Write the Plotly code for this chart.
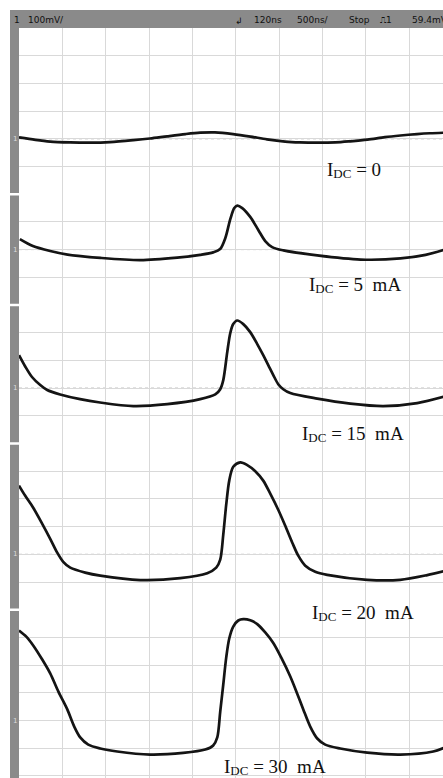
import plotly.graph_objects as go

# ---------------- data (time in ns, voltage in mV, 500 ns/div, 100 mV/div) ----------------
t_0mA = [-2500, -2310, -2140, -1910, -1680, -1450, -1180, -990, -790, -580, -410, -240, -30,
         170, 360, 570, 740, 940, 1150, 1320, 1520, 1720, 1900, 2090, 2240, 2400]
v_0mA = [5, -4, -10, -13, -14, -12, -5, 1, 9, 17, 22, 23, 17,
         8, -2, -10, -13, -14, -13, -9, -3, 6, 12, 17, 20, 22]

t_5mA = [-2490, -2340, -2140, -1940, -1560, -1100, -675, -410, -260, -180, -120, -63, -17,
         17, 75, 167, 260, 340, 420, 550, 940, 1440, 1900, 2190, 2400]
v_5mA = [38, 13, -5, -18, -30, -38, -29, -19, -10, 2, 42, 110, 150,
         159, 150, 118, 71, 31, 9, -3, -21, -36, -32, -19, -1]

t_15mA = [-2500, -2430, -2350, -2255, -2175, -2025, -1795, -1565, -1182, -790, -410, -236, -179,
          -144, -98, -63, -29, 17, 87, 167, 248, 317, 375, 433, 490, 548, 629, 940, 1321,
          1701, 2093, 2400]
v_15mA = [119, 79, 40, 11, -7, -23, -40, -52, -65, -58, -40, -23, -4,
          29, 130, 199, 231, 244, 231, 202, 159, 119, 83, 47, 14, -4, -18, -38, -56,
          -65, -54, -31]

t_20mA = [-2500, -2430, -2336, -2232, -2140, -2059, -1990, -1909, -1736, -1563, -1101, -640,
          -329, -225, -179, -144, -110, -75, -29, 52, 133, 225, 317, 398, 490, 571, 652,
          721, 802, 917, 1055, 1517, 1897, 2209, 2400]
v_20mA = [248, 212, 168, 110, 56, 6, -27, -48, -66, -77, -93, -86,
          -68, -48, -19, 71, 179, 266, 316, 332, 322, 300, 266, 219, 161, 103, 42,
          -5, -41, -63, -74, -92, -92, -75, -61]

t_30mA = [-2500, -2416, -2336, -2232, -2140, -2047, -1943, -1863, -1794, -1701, -1563, -1367,
          -986, -606, -352, -260, -213, -179, -144, -110, -75, -29, 29, 87, 167, 248, 340,
          433, 525, 629, 709, 779, 859, 940, 1032, 1205, 1517, 1897, 2278, 2400]
v_30mA = [325, 303, 271, 220, 170, 105, 40, -22, -61, -87, -101, -112,
          -123, -117, -105, -90, -61, 32, 130, 227, 296, 339, 361, 366, 362, 348, 318,
          280, 227, 159, 97, 40, -22, -65, -87, -101, -116, -123, -112, -99]

series_t = [t_0mA, t_5mA, t_15mA, t_20mA, t_30mA]
series_v = [v_0mA, v_5mA, v_15mA, v_20mA, v_30mA]
sub = "<span style='font-size:13px;baseline-shift:-2px'>DC</span>"
labels = [f"I{sub} = 0", f"I{sub} = 5  mA", f"I{sub} = 15  mA",
          f"I{sub} = 20  mA", f"I{sub} = 30  mA"]
header_texts = ["1", "100mV/", "120ns", "500ns/", "Stop", "\u238d1", "59.4mV"]

# ---------------- layout geometry ----------------
W, H = 443, 778
plot_left = 19
top_px = 28
div_px = 27.7
panel_divs = [(4, -2), (2, -2), (3, -2), (4, -2), (4, None)]  # (above, below) in divisions
mv_per_div = 100
x_range = [-2500, -2500 + (W - plot_left) / 43.35 * 500]

fig = go.Figure()
layout = dict(width=W, height=H, margin=dict(l=0, r=0, t=0, b=0),
              paper_bgcolor="white", plot_bgcolor="white", showlegend=False)
shapes = []
annotations = []
grid_col = "#d9d9d9"
strip_col = "#8a8a8a"

cur = top_px
for i, (up, down) in enumerate(panel_divs):
    if down is None:
        bottom_px = H
        down = -(H - cur) / div_px + up
    else:
        bottom_px = cur + (up - down) * div_px
    dom = [1 - bottom_px / H, 1 - cur / H]
    n = i + 1
    xa = "xaxis" if n == 1 else f"xaxis{n}"
    ya = "yaxis" if n == 1 else f"yaxis{n}"
    xr = "x" if n == 1 else f"x{n}"
    yr = "y" if n == 1 else f"y{n}"
    layout[xa] = dict(domain=[plot_left / W, 1], range=x_range, dtick=500, tick0=0,
                      showticklabels=False, showgrid=True, gridcolor=grid_col, gridwidth=1,
                      zeroline=False, showline=False, ticks="", anchor=yr,
                      fixedrange=True)
    layout[ya] = dict(domain=dom, range=[down * mv_per_div, up * mv_per_div], dtick=mv_per_div,
                      tick0=0, showticklabels=False, showgrid=True, gridcolor=grid_col,
                      gridwidth=1, zeroline=False, showline=False, ticks="", anchor=xr,
                      fixedrange=True)
    # dotted center reference line
    shapes.append(dict(type="line", xref=f"{xr} domain", x0=0, x1=1, yref=yr, y0=0, y1=0,
                       line=dict(color="#b5b5b5", width=1, dash="dot"), layer="below"))
    # left channel strip segment
    gap = 1.2 / H
    shapes.append(dict(type="rect", xref="paper", x0=10 / W, x1=plot_left / W, yref="paper",
                       y0=dom[0] + (0 if n == 5 else gap), y1=dom[1] - (0 if n == 1 else gap),
                       fillcolor=strip_col, line=dict(width=0), layer="above"))
    # channel marker
    annotations.append(dict(text="1", x=14.5 / W, xref="paper", y=0, yref=yr,
                            showarrow=False, font=dict(family="DejaVu Sans", size=7, color="#dcdcdc"),
                            xanchor="center", yanchor="middle"))
    fig.add_trace(go.Scatter(x=series_t[i], y=series_v[i], mode="lines", xaxis=xr, yaxis=yr,
                             line=dict(color="#141414", width=2.7, shape="spline", smoothing=0.85),
                             hoverinfo="skip"))
    cur = bottom_px

# header bar
shapes.append(dict(type="rect", xref="paper", x0=10 / W, x1=1, yref="paper",
                   y0=1 - top_px / H, y1=1 - 10 / H, fillcolor=strip_col, line=dict(width=0)))
hdr_x = [12, 26, 252, 295, 347, 378, 410]
for txt, hx in zip(header_texts, hdr_x):
    annotations.append(dict(text=txt, x=hx / W, xref="paper", y=1 - 19.5 / H, yref="paper",
                            showarrow=False, xanchor="left", yanchor="middle",
                            font=dict(family="DejaVu Sans", size=9, color="#111111")))
annotations.append(dict(text="\u21b2", x=233 / W, xref="paper", y=1 - 21 / H, yref="paper",
                        showarrow=False, xanchor="left", yanchor="middle",
                        font=dict(family="DejaVu Sans", size=9, color="#111111")))

# curve labels
lab_pos = [(325, 170), (307, 285), (300, 434), (310, 613), (222, 767)]
for txt, (lx, ly) in zip(labels, lab_pos):
    annotations.append(dict(text=txt, x=lx / W, xref="paper", y=1 - ly / H, yref="paper",
                            showarrow=False, xanchor="left", yanchor="middle",
                            font=dict(family="Liberation Serif", size=19, color="#111111")))

layout["shapes"] = shapes
layout["annotations"] = annotations
fig.update_layout(**layout)
fig.write_html("out.html", config={"displayModeBar": False})
